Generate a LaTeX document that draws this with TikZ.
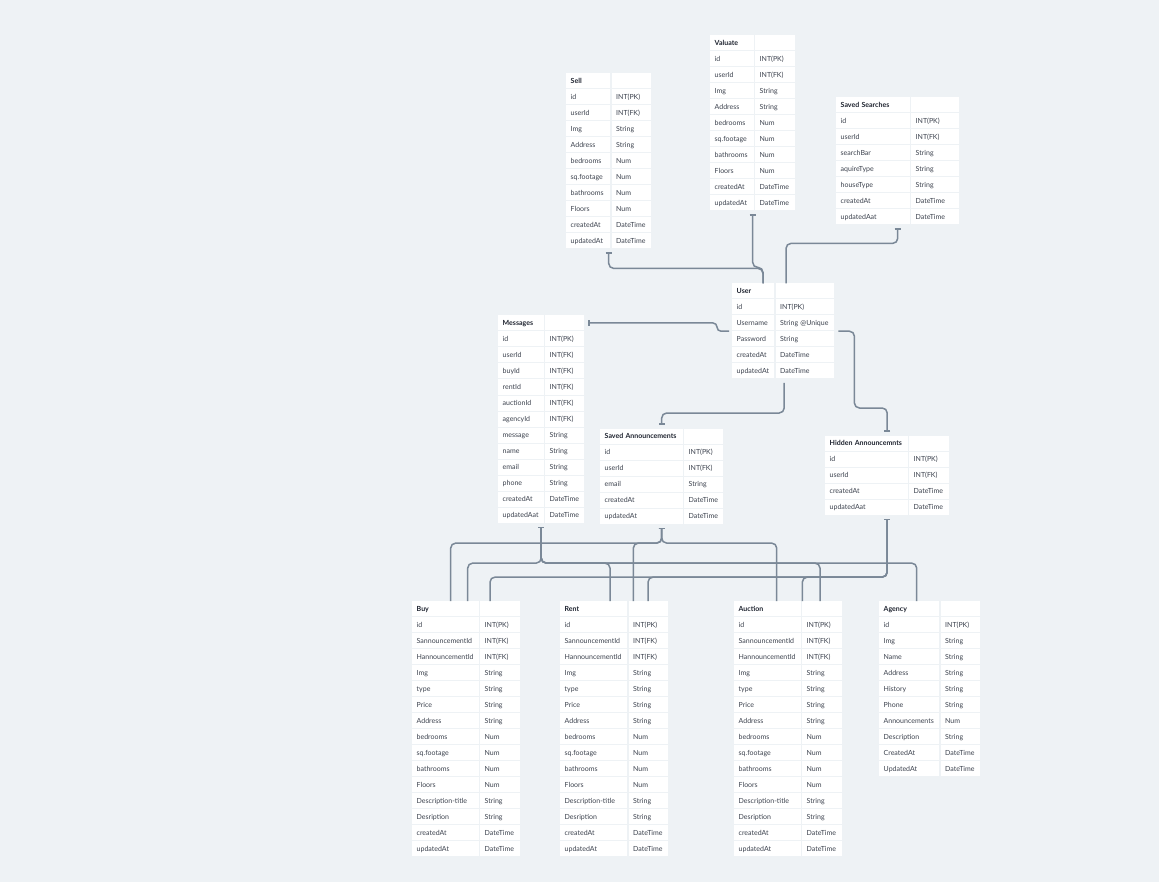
\documentclass[tikz,border=0pt]{standalone}
\usepackage{fontspec}
\setmainfont{Lato}
\usetikzlibrary{calc,arrows.meta}
\definecolor{bgc}{HTML}{EEF2F5}
\definecolor{lineC}{HTML}{7A8897}
\definecolor{txtC}{HTML}{3C424E}
\definecolor{hdrC}{HTML}{1F2430}
\tikzset{
 cell/.style={fill=white, anchor=west, inner xsep=4.5pt, inner ysep=0pt, minimum height=15pt, align=left, text height=6.4pt, text depth=1.2pt, font=\fontsize{7}{8}\selectfont, text=txtC},
 hdr/.style={cell, font=\fontsize{7}{8}\selectfont\bfseries, text=hdrC},
 conn/.style={draw=lineC, line width=1.5pt, rounded corners=5pt},
 one/.style={-{Bar[width=6pt]}},
}
\newcommand{\erdtab}[8]{%
 \pgfmathsetmacro{\erdWL}{#3-#2}%
 \pgfmathsetmacro{\erdTL}{#3-#2-9}%
 \pgfmathsetmacro{\erdWR}{#4-#3-1.5}%
 \pgfmathsetmacro{\erdTR}{#4-#3-10.5}%
 \pgfmathsetmacro{\erdXR}{#3+1.5}%
 \pgfmathsetmacro{\erdTW}{#4-#2}%
 \pgfmathsetmacro{\erdTH}{16*(#6+1)-1}%
 \node[inner sep=0pt, minimum width=\erdTW pt, minimum height=\erdTH pt, anchor=north west] (#1) at (#2,#5-7.5) {};
 \node[hdr, minimum width=\erdWL pt, text width=\erdTL pt] (#1-hl) at (#2,#5) {\mbox{#7}};
 \node[hdr, minimum width=\erdWR pt, text width=\erdTR pt] (#1-hr) at (\erdXR,#5) {};
 \foreach \f/\t [count=\i] in {#8} {
   \node[cell, minimum width=\erdWL pt, text width=\erdTL pt] (#1-l\i) at (#2,#5+16*\i) {\mbox{\f}};
   \node[cell, minimum width=\erdWR pt, text width=\erdTR pt] (#1-r\i) at (\erdXR,#5+16*\i) {\mbox{\t}};
 }%
}
\begin{document}
\begin{tikzpicture}[x=1pt,y=-1pt]
\useasboundingbox (0,0) rectangle (1159,882);
\fill[bgc] (0,0) rectangle (1159,882);

\erdtab{sell}{566}{610}{651}{80.5}{10}{Sell}{id/INT(PK), userId/INT(FK), Img/String, Address/String, bedrooms/Num, sq.footage/Num, bathrooms/Num, Floors/Num, createdAt/DateTime, updatedAt/DateTime}
\erdtab{valuate}{710}{753.5}{795}{42.5}{10}{Valuate}{id/INT(PK), userId/INT(FK), Img/String, Address/String, bedrooms/Num, sq.footage/Num, bathrooms/Num, Floors/Num, createdAt/DateTime, updatedAt/DateTime}
\erdtab{ss}{836}{909.5}{959}{104.5}{7}{Saved Searches}{id/INT(PK), userId/INT(FK), searchBar/String, aquireType/String, houseType/String, createdAt/DateTime, updatedAat/DateTime}
\erdtab{user}{732}{774}{834}{291}{5}{User}{id/INT(PK), Username/String @Unique, Password/String, createdAt/DateTime, updatedAt/DateTime}
\erdtab{msg}{498}{543.5}{584}{323}{12}{Messages}{id/INT(PK), userId/INT(FK), buyId/INT(FK), rentId/INT(FK), auctionId/INT(FK), agencyId/INT(FK), message/String, name/String, email/String, phone/String, createdAt/DateTime, updatedAat/DateTime}
\erdtab{sa}{600}{682.5}{723}{436}{5}{Saved Announcements}{id/INT(PK), userId/INT(FK), email/String, createdAt/DateTime, updatedAt/DateTime}
\erdtab{hidden}{825}{907.5}{949}{443}{4}{Hidden Announcemnts}{id/INT(PK), userId/INT(FK), createdAt/DateTime, updatedAat/DateTime}
\erdtab{buy}{412}{478.5}{519.5}{608.5}{15}{Buy}{id/INT(PK), SannouncementId/INT(FK), HannouncementId/INT(FK), Img/String, type/String, Price/String, Address/String, bedrooms/Num, sq.footage/Num, bathrooms/Num, Floors/Num, Description-title/String, Desription/String, createdAt/DateTime, updatedAt/DateTime}
\erdtab{rent}{560}{627}{668}{608.5}{15}{Rent}{id/INT(PK), SannouncementId/INT(FK), HannouncementId/INT(FK), Img/String, type/String, Price/String, Address/String, bedrooms/Num, sq.footage/Num, bathrooms/Num, Floors/Num, Description-title/String, Desription/String, createdAt/DateTime, updatedAt/DateTime}
\erdtab{auction}{734}{800.5}{842}{608.5}{15}{Auction}{id/INT(PK), SannouncementId/INT(FK), HannouncementId/INT(FK), Img/String, type/String, Price/String, Address/String, bedrooms/Num, sq.footage/Num, bathrooms/Num, Floors/Num, Description-title/String, Desription/String, createdAt/DateTime, updatedAt/DateTime}
\erdtab{agency}{879}{939}{980}{608.5}{10}{Agency}{id/INT(PK), Img/String, Name/String, Address/String, History/String, Phone/String, Announcements/Num, Description/String, CreatedAt/DateTime, UpdatedAt/DateTime}

% connectors around User
\draw[conn, one] ($(user.north west)+(31,0)$) |- ($(sell.south)+(0,20)$) -- ($(sell.south)+(0,4)$);
\draw[conn, one] ($(user.north west)+(31,0)$) |- ($(valuate.south)+(0,57)$) -- ($(valuate.south)+(0,4)$);
\draw[conn, one] ($(user.north west)+(54,0)$) |- ($(ss.south)+(0,19)$) -- ($(ss.south)+(0,4)$);
\draw[conn, one, rounded corners=4pt] ($(user.west)+(-3,0)$) -- ++(-12,0) |- ($(msg-hr.east)+(4,0)$);
\draw[conn, one] ($(user.south)+(1,4)$) |- ($(sa.north)+(0,-15.5)$) -- ($(sa.north)+(0,-4)$);
\draw[conn, one] ($(user.east)+(4,0)$) -- ++(16,0) |- ($(hidden.north)+(0,-27.5)$) -- ($(hidden.north)+(0,-4)$);

% Saved Announcements to listings
\draw[conn, one] ($(buy.north west)+(38.7,0)$) |- ($(sa.south)+(0,19.2)$) -- ($(sa.south)+(0,4)$);
\draw[conn, one] ($(rent.north west)+(73.3,0)$) |- ($(sa.south)+(0,19.2)$) -- ($(sa.south)+(0,4)$);
\draw[conn, one] ($(auction.north west)+(42.7,0)$) |- ($(sa.south)+(0,19.2)$) -- ($(sa.south)+(0,4)$);
% Messages to listings
\draw[conn, one] ($(buy.north west)+(55.7,0)$) |- ($(msg.south)+(0,40.2)$) -- ($(msg.south)+(0,4)$);
\draw[conn, one] ($(rent.north west)+(50,0)$) |- ($(msg.south)+(0,40.2)$) -- ($(msg.south)+(0,4)$);
\draw[conn, one] ($(auction.north west)+(86,0)$) |- ($(msg.south)+(0,40.2)$) -- ($(msg.south)+(0,4)$);
\draw[conn, one] ($(agency.north west)+(37.7,0)$) |- ($(msg.south)+(0,40.2)$) -- ($(msg.south)+(0,4)$);
% Hidden to listings
\draw[conn, one] ($(buy.north west)+(78,0)$) |- ($(hidden.south)+(0,62.2)$) -- ($(hidden.south)+(0,4)$);
\draw[conn, one] ($(rent.north west)+(88,0)$) |- ($(hidden.south)+(0,62.2)$) -- ($(hidden.south)+(0,4)$);
\draw[conn, one] ($(auction.north west)+(68.3,0)$) |- ($(hidden.south)+(0,62.2)$) -- ($(hidden.south)+(0,4)$);
\end{tikzpicture}
\end{document}
